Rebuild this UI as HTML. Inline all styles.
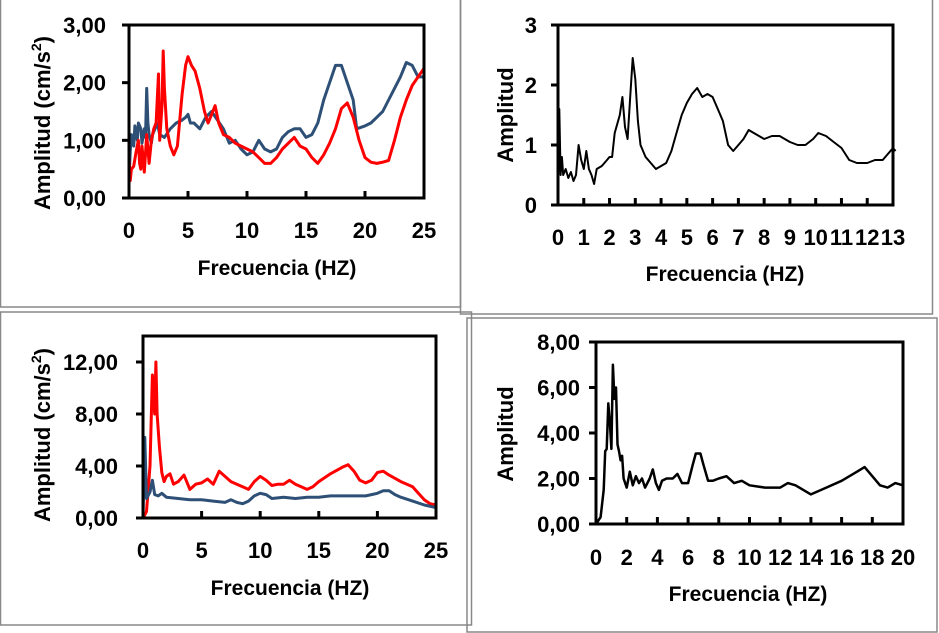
<!DOCTYPE html>
<html><head><meta charset="utf-8"><style>
html,body{margin:0;padding:0;background:#fff;width:939px;height:633px;overflow:hidden}
svg{display:block}
text{font-family:"Liberation Sans",sans-serif;font-weight:bold;fill:#000}
</style></head><body>
<svg id="s" width="939" height="633" viewBox="0 0 939 633">
<rect x="0.5" y="-1" width="460" height="308" fill="none" stroke="#888" stroke-width="1.5"/>
<rect x="460.5" y="-1" width="472" height="315" fill="none" stroke="#888" stroke-width="1.5"/>
<rect x="0.5" y="312" width="471" height="313" fill="none" stroke="#888" stroke-width="1.5"/>
<rect x="467" y="318" width="470" height="314" fill="none" stroke="#888" stroke-width="1.5"/>
</svg>
<script>
// Chart 1 (top-left)
const c1BlueX=[0,0.1,0.2,0.4,0.5,0.7,0.8,1.0,1.1,1.3,1.4,1.5,1.6,1.7,1.9,2.0,2.2,2.4,2.6,3.0,3.5,4,4.5,4.8,5,5.2,5.5,6,6.5,7,7.5,8,8.5,9,9.5,10,10.5,11,11.5,12,12.5,13,13.5,14,14.5,15,15.5,16,16.5,17,17.5,18,18.5,19,19.3,20,20.5,21,21.5,22,22.5,23,23.5,24,24.5,25];
const c1BlueY=[0.3,0.8,1.1,0.9,1.25,1.0,1.3,1.2,0.95,1.2,1.05,1.9,1.3,1.1,0.95,1.1,1.2,1.3,1.1,1.05,1.2,1.3,1.35,1.4,1.45,1.3,1.3,1.2,1.4,1.5,1.35,1.2,0.95,1.0,0.85,0.75,0.8,1.0,0.85,0.8,0.85,1.05,1.15,1.2,1.2,1.05,1.1,1.3,1.7,2.0,2.3,2.3,2.0,1.7,1.2,1.25,1.3,1.4,1.5,1.7,1.9,2.1,2.35,2.3,2.1,2.1];
const c1RedX=[0,0.1,0.2,0.4,0.6,0.8,0.9,1.0,1.1,1.3,1.5,1.7,1.9,2.1,2.3,2.5,2.6,2.8,2.9,3.0,3.2,3.5,3.8,4.1,4.5,4.8,5,5.3,5.6,6,6.4,6.7,7,7.3,7.6,8,8.5,9,9.5,10,10.5,11,11.5,12,12.5,13,13.5,14,14.5,15,15.5,16,16.5,17,17.5,18,18.5,19,19.5,20,20.5,21,21.5,22,22.5,23,23.5,24,24.5,25];
const c1RedY=[0.7,0.3,0.5,0.55,0.8,1.0,0.6,0.5,0.9,0.45,1.1,0.6,1.0,1.2,1.3,2.15,1.0,1.6,2.55,1.9,1.2,0.9,0.75,0.9,1.8,2.3,2.45,2.3,2.2,1.9,1.5,1.3,1.45,1.6,1.3,1.1,1.05,0.95,0.9,0.85,0.8,0.7,0.6,0.6,0.7,0.85,0.95,1.05,0.9,0.85,0.7,0.6,0.75,0.95,1.2,1.55,1.65,1.4,1.0,0.7,0.62,0.6,0.62,0.65,1.0,1.4,1.7,1.95,2.1,2.25];
const c1XTicks=[0,5,10,15,20,25];
const c1YTicks=[0,1,2,3];
const c1YLabels=["0,00","1,00","2,00","3,00"];
// Chart 2 (top-right)
const c2X=[0,0.05,0.1,0.15,0.2,0.3,0.4,0.5,0.6,0.7,0.8,0.9,1.0,1.1,1.2,1.3,1.4,1.5,1.7,1.9,2.0,2.1,2.2,2.4,2.5,2.6,2.7,2.8,2.9,3.0,3.1,3.2,3.4,3.6,3.8,4.0,4.2,4.4,4.6,4.8,5.0,5.2,5.4,5.6,5.8,6.0,6.2,6.4,6.6,6.8,7.0,7.2,7.4,7.6,7.8,8.0,8.3,8.6,9.0,9.3,9.6,9.9,10.1,10.4,10.7,11.0,11.3,11.6,12.0,12.3,12.6,13.0,13.1];
const c2Y=[0.4,1.6,0.5,0.8,0.5,0.6,0.45,0.55,0.4,0.5,1.0,0.75,0.6,0.9,0.6,0.5,0.35,0.6,0.65,0.75,0.8,0.8,1.2,1.5,1.8,1.3,1.1,1.8,2.45,2.1,1.4,1.0,0.8,0.7,0.6,0.65,0.7,0.9,1.2,1.5,1.7,1.85,1.95,1.8,1.85,1.8,1.6,1.4,1.0,0.9,1.0,1.1,1.25,1.2,1.15,1.1,1.15,1.15,1.05,1.0,1.0,1.1,1.2,1.15,1.05,0.95,0.75,0.7,0.7,0.75,0.75,0.95,0.9];
const c2XTicks=[0,1,2,3,4,5,6,7,8,9,10,11,12,13];
const c2YTicks=[0,1,2,3];
const c2YLabels=["0","1","2","3"];
// Chart 3 (bottom-left)
const c3RedX=[0,0.3,0.6,0.8,1.0,1.1,1.2,1.4,1.6,1.8,2.0,2.3,2.6,3,3.5,4,4.5,5,5.5,6,6.5,7,7.5,8,8.5,9,9.5,10,10.5,11,11.5,12,12.5,13,13.5,14,14.5,15,16,17,17.5,18,18.5,19,19.5,20,20.5,21,22,23,23.5,24,24.5,25];
const c3RedY=[0,0.5,4.0,11.0,8,12,8,5.5,3.5,2.8,3.2,3.4,2.6,2.8,3.3,2.2,2.6,2.7,3.0,2.6,3.6,3.2,2.8,2.6,2.4,2.2,2.8,3.2,2.9,2.5,2.6,2.6,2.9,2.6,2.4,2.2,2.4,2.8,3.4,3.9,4.1,3.6,2.9,2.7,2.9,3.5,3.6,3.3,2.8,2.4,1.9,1.4,1.1,1.0];
const c3BlueX=[0,0.15,0.3,0.6,0.8,1.0,1.3,1.6,2,3,4,5,6,7,7.5,8,8.5,9,9.5,10,10.5,11,12,13,14,15,16,17,18,19,19.5,20,20.5,21,21.5,22,23,24,25];
const c3BlueY=[0,6.2,1.5,2.0,2.9,1.8,1.7,1.9,1.6,1.5,1.4,1.4,1.3,1.2,1.4,1.2,1.1,1.3,1.7,1.9,1.8,1.5,1.6,1.5,1.6,1.6,1.7,1.7,1.7,1.7,1.8,1.9,2.1,2.1,1.8,1.6,1.3,1.0,0.8];
const c3XTicks=[0,5,10,15,20,25];
const c3YTicks=[0,4,8,12];
const c3YLabels=["0,00","4,00","8,00","12,00"];
// Chart 4 (bottom-right)
const c4X=[0,0.3,0.5,0.6,0.7,0.8,0.9,1.0,1.1,1.2,1.3,1.4,1.5,1.6,1.7,1.8,2.0,2.2,2.4,2.6,2.8,3.0,3.2,3.5,3.7,3.9,4.1,4.3,4.6,5,5.3,5.6,6,6.3,6.5,6.8,7,7.3,7.6,8,8.5,9,9.5,10,11,12,12.5,13,14,15,16,17,17.5,18,18.5,19,19.5,20];
const c4Y=[0,0.3,1.5,3.2,3.3,5.3,4.5,3.3,7.0,5.5,6.0,3.5,3.2,2.8,3.0,2.0,1.6,2.3,1.7,2.1,1.8,2.0,1.6,2.0,2.4,1.8,1.5,1.9,2.0,2.0,2.2,1.8,1.8,2.6,3.1,3.1,2.6,1.9,1.9,2.0,2.1,1.8,1.9,1.7,1.6,1.6,1.8,1.7,1.3,1.6,1.9,2.3,2.5,2.1,1.7,1.6,1.8,1.7];
const c4XTicks=[0,2,4,6,8,10,12,14,16,18,20];
const c4YTicks=[0,2,4,6,8];
const c4YLabels=["0,00","2,00","4,00","6,00","8,00"];

const NS="http://www.w3.org/2000/svg";
const svg=document.getElementById('s');
function mk(tag,attrs,parent){const e=document.createElementNS(NS,tag);for(const k in attrs)e.setAttribute(k,attrs[k]);(parent||svg).appendChild(e);return e;}

function chart(cfg){
  const g=mk('g',{});
  
  
  const sx=v=>cfg.L+(v-cfg.x0)/(cfg.x1-cfg.x0)*(cfg.R-cfg.L);
  const sy=v=>cfg.B-(v-cfg.y0)/(cfg.y1-cfg.y0)*(cfg.B-cfg.T);
  cfg.series.forEach(s=>{
    let d='';
    s.x.forEach((xv,i)=>{d+=(i?'L':'M')+sx(xv).toFixed(1)+' '+sy(s.y[i]).toFixed(1);});
    const p=mk('path',{d:d,fill:'none',stroke:s.color,'stroke-width':s.w,'stroke-linejoin':'round'},g);
    
    
  });
  const f=mk('rect',{x:cfg.L,y:cfg.T,width:cfg.R-cfg.L,height:cfg.B-cfg.T,fill:'none',stroke:'#000','stroke-width':3},g);
  
  
  cfg.xt.forEach(v=>{
    const x=sx(v);
    const t=mk('line',{x1:x,x2:x,y1:cfg.B,y2:cfg.B-7,stroke:'#000','stroke-width':3},g);
    
    
    const l=mk('text',{x:x,y:cfg.xly,'text-anchor':'middle',style:'font-size:'+cfg.fs+'px'},g);
    l.textContent=String(v);
    
    
  });
  cfg.yt.forEach((v,i)=>{
    const y=sy(v);
    const t=mk('line',{x1:cfg.L-7,x2:cfg.L,y1:y,y2:y,stroke:'#000','stroke-width':3},g);
    
    
    const l=mk('text',{x:cfg.ylx,y:y+8,'text-anchor':'end',style:'font-size:'+cfg.fs+'px'},g);
    l.textContent=cfg.yl[i];
    
    
  });
  const xt=mk('text',{x:cfg.xtx,y:cfg.xty,'text-anchor':'middle',style:'font-size:21px'},g);
  xt.textContent='Frecuencia (HZ)';
  
  
  const yt=mk('text',{x:0,y:0,'text-anchor':'middle',style:'font-size:22px',transform:'translate('+cfg.ytx+','+cfg.yty+') rotate(-90)'},g);
  if(cfg.unit){
    yt.appendChild(document.createTextNode('Amplitud (cm/s'));
    const sup=mk('tspan',{style:'font-size:14px',dy:-9},yt);
    sup.textContent='2';
    const cl=mk('tspan',{dy:9},yt);
    cl.textContent=')';
  } else yt.textContent='Amplitud';
  
  
}

chart({name:'chart-top-left',L:129,R:424,T:25,B:198,x0:0,x1:25,y0:0,y1:3,xt:c1XTicks,yt:c1YTicks,yl:c1YLabels,fs:22,xly:238,ylx:106,xtx:277,xty:275,ytx:50,yty:123,unit:true,
  series:[{name:'series-blue',x:c1BlueX,y:c1BlueY,color:'#2e5077',w:3},{name:'series-red',x:c1RedX,y:c1RedY,color:'#ff0000',w:3}]});
chart({name:'chart-top-right',L:558,R:893,T:25,B:205,x0:0,x1:13,y0:0,y1:3,xt:c2XTicks,yt:c2YTicks,yl:c2YLabels,fs:22,xly:245,ylx:537,xtx:725,xty:281,ytx:513,yty:115,unit:false,
  series:[{name:'series-black',x:c2X,y:c2Y,color:'#000',w:2}]});
chart({name:'chart-bottom-left',L:143,R:436,T:336,B:518,x0:0,x1:25,y0:0,y1:14,xt:c3XTicks,yt:c3YTicks,yl:c3YLabels,fs:22,xly:558,ylx:118,xtx:290,xty:595,ytx:50,yty:435,unit:true,
  series:[{name:'series-red',x:c3RedX,y:c3RedY,color:'#ff0000',w:3},{name:'series-blue',x:c3BlueX,y:c3BlueY,color:'#2e5077',w:3}]});
chart({name:'chart-bottom-right',L:596,R:903,T:342,B:524,x0:0,x1:20,y0:0,y1:8,xt:c4XTicks,yt:c4YTicks,yl:c4YLabels,fs:22,xly:565,ylx:580,xtx:748,xty:601,ytx:513,yty:434,unit:false,
  series:[{name:'series-black',x:c4X,y:c4Y,color:'#000',w:2.5}]});
</script>
</body></html>
